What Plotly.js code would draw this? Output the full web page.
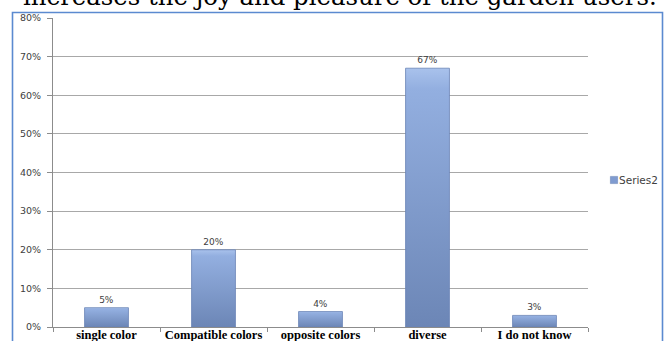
<!DOCTYPE html>
<html>
<head>
<meta charset="utf-8">
<script src="https://cdn.plot.ly/plotly-3.0.1.min.js"></script>
<style>
  html, body { margin: 0; padding: 0; background: #ffffff; }
  #chart { width: 667px; height: 341px; }
</style>
</head>
<body>
<div id="chart"></div>
<script>
// Survey answers: preferred colour scheme in the garden
const categories = ['single color', 'Compatible colors', 'opposite colors', 'diverse', 'I do not know'];
const shares = [0.05, 0.20, 0.04, 0.67, 0.03];
const seriesName = 'Series2';
const yTickValues = [0, 0.1, 0.2, 0.3, 0.4, 0.5, 0.6, 0.7, 0.8];
const captionLine = 'increases the joy and pleasure of the garden users.';

const W = 667, H = 341;
const plotLeft = 53, plotRight = 588, plotTop = 18, plotBottom = 327;
const pw = plotRight - plotLeft, ph = plotBottom - plotTop;
const px = x => (x - plotLeft) / pw;      // page pixel -> paper x
const py = y => (plotBottom - y) / ph;    // page pixel -> paper y

const trace = {
  type: 'bar',
  name: seriesName,
  x: categories,
  y: shares,
  text: shares.map(v => Math.round(v * 100) + '%'),
  textposition: 'outside',
  textfont: { family: 'DejaVu Sans, sans-serif', size: 9, color: '#404040' },
  cliponaxis: false,
  marker: { color: '#87a3d6', line: { color: '#6a84b6', width: 0.8 } },
  showlegend: true,
  hoverinfo: 'skip'
};

const layout = {
  width: W, height: H,
  margin: { l: plotLeft, r: W - plotRight, t: plotTop, b: H - plotBottom, pad: 0, autoexpand: false },
  paper_bgcolor: '#ffffff',
  plot_bgcolor: '#ffffff',
  bargap: 0.59,
  showlegend: true,
  legend: {
    x: px(579), y: py(180), xanchor: 'left', yanchor: 'middle',
    font: { family: 'DejaVu Sans, sans-serif', size: 10.5, color: '#404040' },
    bgcolor: 'rgba(0,0,0,0)', itemwidth: 30
  },
  xaxis: {
    type: 'category',
    showline: true, linecolor: '#8c8c8c', linewidth: 1,
    ticks: 'outside', tickson: 'boundaries', ticklen: 4, tickcolor: '#8c8c8c',
    showgrid: false, zeroline: false,
    tickfont: { family: 'Liberation Serif, Times New Roman, serif', size: 12.5, color: '#000000', weight: 'bold' },
    ticklabelstandoff: -4
  },
  yaxis: {
    range: [0, 0.8],
    tickvals: yTickValues,
    tickformat: '.0%',
    showline: true, linecolor: '#8c8c8c', linewidth: 1,
    ticks: 'outside', ticklen: 5, tickcolor: '#8c8c8c',
    showgrid: true, gridcolor: '#a8a8a8', gridwidth: 1,
    zeroline: false,
    tickfont: { family: 'DejaVu Sans, sans-serif', size: 9.5, color: '#404040' },
    ticklabelstandoff: 4
  },
  shapes: [{
    type: 'rect', xref: 'paper', yref: 'paper', layer: 'below',
    x0: px(12.5), x1: px(662.5), y0: py(360), y1: py(12.5),
    line: { color: '#5b8ad0', width: 1.6 }, fillcolor: 'rgba(0,0,0,0)'
  }],
  annotations: [{
    text: captionLine,
    xref: 'paper', yref: 'paper',
    x: px(340), y: py(13), xanchor: 'center', yanchor: 'bottom',
    showarrow: false,
    font: { family: 'DejaVu Serif, Liberation Serif, serif', size: 24.4, color: '#000000' }
  }]
};

Plotly.newPlot('chart', [trace], layout, { displayModeBar: false, staticPlot: true }).then(gd => {
  // shade the bars with a top-to-bottom blue gradient
  const svg = gd.querySelector('svg.main-svg');
  const ns = 'http://www.w3.org/2000/svg';
  let defs = svg.querySelector('defs');
  if (!defs) { defs = document.createElementNS(ns, 'defs'); svg.insertBefore(defs, svg.firstChild); }
  const grad = document.createElementNS(ns, 'linearGradient');
  grad.setAttribute('id', 'barShade');
  grad.setAttribute('x1', '0'); grad.setAttribute('y1', '0');
  grad.setAttribute('x2', '0'); grad.setAttribute('y2', '1');
  [['0', '#a9c2ec'], ['0.08', '#93afe0'], ['1', '#6c86b6']].forEach(([o, c]) => {
    const s = document.createElementNS(ns, 'stop');
    s.setAttribute('offset', o); s.setAttribute('stop-color', c);
    grad.appendChild(s);
  });
  defs.appendChild(grad);
  gd.querySelectorAll('.bars .point path').forEach(p => { p.style.fill = 'url(#barShade)'; });
  // smaller legend swatch, sitting next to its label
  gd.querySelectorAll('.legendpoints path').forEach(p => {
    p.style.fill = '#7f9bd0';
    p.style.stroke = '#5f7aac';
    p.setAttribute('transform', 'translate(35,0) scale(0.6)');
  });
});
</script>
</body>
</html>
